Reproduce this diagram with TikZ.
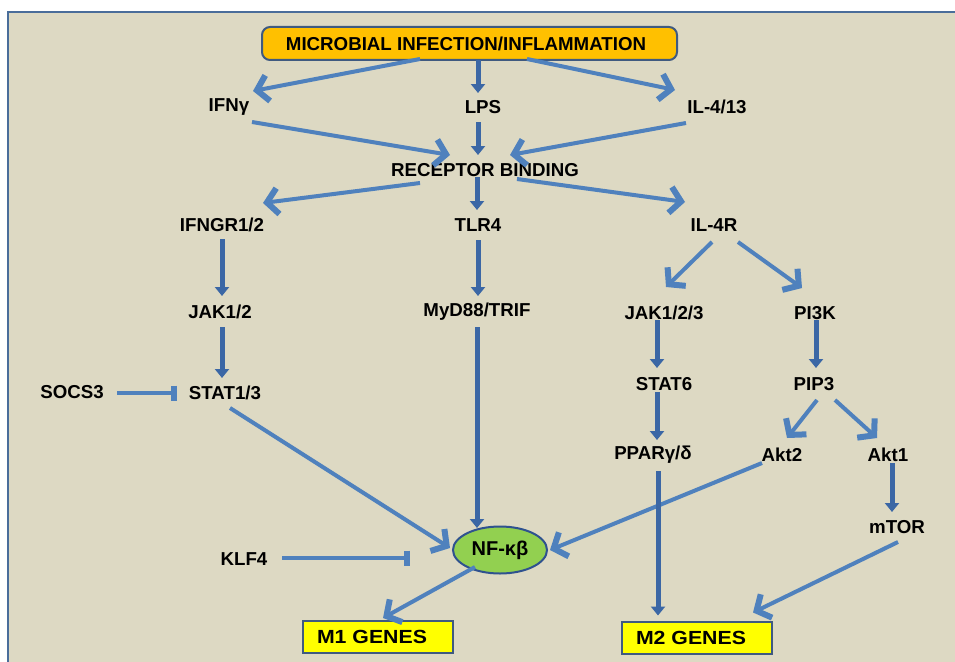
\documentclass[tikz,border=0pt]{standalone}
\usepackage{fontspec}
\setmainfont{Liberation Sans}
\newfontfamily\genefont{Liberation Sans}[FakeStretch=1.12]
\usetikzlibrary{arrows.meta,shapes.geometric,calc}
\definecolor{bgbeige}{HTML}{DDD9C3}
\definecolor{framec}{HTML}{4A6D9A}
\definecolor{lightarr}{HTML}{4F81BD}
\definecolor{darkarr}{HTML}{3B67A5}
\definecolor{boxedge}{HTML}{3F5A80}
\definecolor{topfill}{HTML}{FFC000}
\definecolor{genefill}{HTML}{FFFF00}
\definecolor{nfkbfill}{HTML}{92D050}
\definecolor{nfkbedge}{HTML}{2F528F}
\tikzset{
  lbl/.style={inner sep=0pt, font=\fontsize{18.7}{21}\selectfont\bfseries},
  la/.style={draw=lightarr, line width=4pt, -{Straight Barb[length=11pt,width=26pt,line width=6pt]}},
  da/.style={draw=darkarr, line width=5pt, -{Triangle[length=9pt,width=14pt]}},
  inh/.style={draw=lightarr, line width=4pt, -{Bar[width=15pt,line width=6pt]}},
  genebox/.style={draw=boxedge, line width=2pt, fill=genefill, minimum width=150pt, minimum height=32pt, inner sep=0pt, font=\genefont\fontsize{19}{21}\selectfont\bfseries}
}
\begin{document}
\begin{tikzpicture}[x=1pt,y=-1pt]
\useasboundingbox (0,0) rectangle (955,661);
\clip (0,0) rectangle (955,661);
\fill[white] (0,0) rectangle (955,661);
\draw[framec, line width=2pt, fill=bgbeige] (8,12) rectangle (970,680);

% nodes
\node[draw=boxedge, line width=2pt, fill=topfill, rounded corners=8pt, minimum width=415pt, minimum height=33pt, inner sep=0pt, font=\fontsize{18.7}{21}\selectfont\bfseries] (top) at (469.5,43.5) {\hspace*{-7pt}MICROBIAL INFECTION/INFLAMMATION};
\node[lbl] (ifn) at (229,107) {IFNγ};
\node[lbl] (lps) at (483,107) {LPS};
\node[lbl] (il4) at (717,107) {IL-4/13};
\node[lbl] (rb) at (485,170) {RECEPTOR BINDING};
\node[lbl] (ifngr) at (222,225) {IFNGR1/2};
\node[lbl] (tlr4) at (478,225) {TLR4};
\node[lbl] (il4r) at (714,225) {IL-4R};
\node[lbl] (jak12) at (220,312) {JAK1/2};
\node[lbl] (myd) at (477,312) {MyD88/TRIF};
\node[lbl] (jak123) at (664,313) {JAK1/2/3};
\node[lbl] (pi3k) at (815,313) {PI3K};
\node[lbl] (socs) at (72,392) {SOCS3};
\node[lbl] (stat13) at (225,393) {STAT1/3};
\node[lbl] (stat6) at (664,384) {STAT6};
\node[lbl] (pip3) at (814,384) {PIP3};
\node[lbl] (ppar) at (653,455) {PPARγ/δ};
\node[lbl] (akt2) at (782,455) {Akt2};
\node[lbl] (akt1) at (888,455) {Akt1};
\node[lbl] (mtor) at (897,527) {mTOR};
\node[lbl] (klf4) at (244,559) {KLF4};
\node[ellipse, draw=nfkbedge, line width=2pt, fill=nfkbfill, minimum width=94pt, minimum height=47pt, inner sep=0pt, font=\fontsize{20}{22}\selectfont\bfseries] (nfkb) at (500,550) {NF-κβ};
\node[genebox] (m1) at (378,637) {\hspace*{-12pt}M1 GENES};
\node[genebox] (m2) at (697,637.5) {\hspace*{-12pt}M2 GENES};

% light (slanted) arrows
\draw[la] ($(top)+(-49.5,15.5)$) -- ($(ifn)+(24,-16)$);
\draw[la] ($(top)+(57.5,15.5)$) -- ($(il4)+(-42,-17)$);
\draw[la] ($(ifn)+(23,15)$) -- ($(rb)+(-35,-15)$);
\draw[la] ($(il4)+(-31,16)$) -- ($(rb)+(25,-15)$);
\draw[la] ($(rb)+(-65,13)$) -- ($(ifngr)+(41,-22)$);
\draw[la] ($(rb)+(32,9)$) -- ($(il4r)+(-29,-23)$);
\draw[la] ($(il4r)+(-2,17)$) -- ($(jak123)+(2,-26)$);
\draw[la] ($(il4r)+(24,17)$) -- ($(pi3k)+(-13,-25)$);
\draw[la] ($(stat13)+(5,15)$) -- ($(nfkb)+(-50,-2)$);
\draw[la] ($(pip3)+(3,16)$) -- ($(akt2)+(5,-17)$);
\draw[la] ($(pip3)+(21,16)$) -- ($(akt1)+(-11,-17)$);
\draw[la] ($(akt2)+(-20,8)$) -- ($(nfkb)+(50,0)$);
\draw[la] ($(mtor)+(1,15)$) -- ($(m2)+(56,-25)$);
\draw[la] ($(nfkb)+(-25,17)$) -- ($(m1)+(5,-19)$);
\draw[inh] ($(socs)+(45,1)$) -- ($(stat13)+(-48,0)$);
\draw[inh] ($(klf4)+(38,-1)$) -- ($(nfkb)+(-90,8)$);

% dark (vertical) arrows
\draw[da] ($(top)+(8.5,16.5)$) -- ($(lps)+(-5,-14)$);
\draw[da] ($(lps)+(-5,15)$) -- ($(rb)+(-7,-15)$);
\draw[da] ($(rb)+(-8,7)$) -- ($(tlr4)+(-1,-15)$);
\draw[da] ($(ifngr)+(0,14)$) -- ($(jak12)+(2,-16)$);
\draw[da] ($(tlr4)+(0,15)$) -- ($(myd)+(1,-16)$);
\draw[da] ($(jak12)+(2,15)$) -- ($(stat13)+(-3,-15)$);
\draw[da] ($(myd)+(0,15)$) -- ($(nfkb)+(-23,-22)$);
\draw[da] ($(jak123)+(-7,7)$) -- ($(stat6)+(-7,-16)$);
\draw[da] ($(pi3k)+(1,7)$) -- ($(pip3)+(2,-16)$);
\draw[da] ($(stat6)+(-7,8)$) -- ($(ppar)+(4,-15)$);
\draw[da] ($(ppar)+(5,16)$) -- ($(m2)+(-39,-22)$);
\draw[da] ($(akt1)+(4,8)$) -- ($(mtor)+(-5,-15)$);
\end{tikzpicture}
\end{document}
